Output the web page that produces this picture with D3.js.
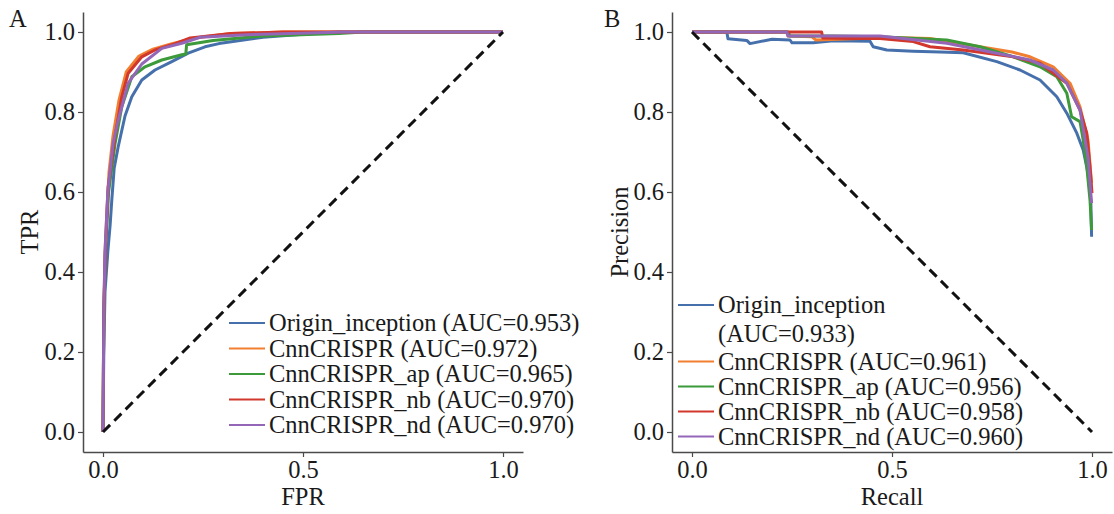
<!DOCTYPE html>
<head>
<meta charset="utf-8">
<title>ROC and PR curves</title>
<script src="https://cdn.jsdelivr.net/npm/d3@7"></script>
<style>
  body { margin: 0; background: #fff; }
  text { font-family: "Liberation Serif", "Times New Roman", serif; fill: #1a1a1a; }
</style>
</head>
<body>
<div id="chart"></div>
<script>

// model names and colours
var models = ["Origin_inception", "CnnCRISPR", "CnnCRISPR_ap", "CnnCRISPR_nb", "CnnCRISPR_nd"];
var colors = ["#4670ab", "#f27f30", "#3c9a3a", "#d1372c", "#9366b8"];

var rocAuc = [0.953, 0.972, 0.965, 0.970, 0.970];
var prAuc = [0.933, 0.961, 0.956, 0.958, 0.960];

var tickVals = [0, 0.2, 0.4, 0.6, 0.8, 1.0];
var xTickVals = [0, 0.5, 1.0];

// ROC points [FPR, TPR]
var rocOrigin = [[0,0],[0.002,0.2],[0.005,0.35],[0.012,0.45],[0.018,0.52],[0.022,0.58],[0.028,0.66],[0.038,0.713],
  [0.055,0.79],[0.072,0.838],[0.097,0.88],[0.13,0.905],[0.172,0.926],[0.213,0.947],[0.255,0.963],[0.29,0.971],
  [0.40,0.987],[0.525,0.996],[0.59,1.0],[1,1]];
var rocCnn = [[0,0],[0.002,0.3],[0.005,0.45],[0.01,0.56],[0.015,0.65],[0.025,0.74],[0.04,0.83],[0.058,0.9],
  [0.09,0.94],[0.125,0.957],[0.17,0.97],[0.23,0.985],[0.32,0.996],[0.45,1],[1,1]];
var rocAp = [[0,0],[0.002,0.3],[0.006,0.45],[0.014,0.6],[0.03,0.72],[0.047,0.813],[0.072,0.888],[0.105,0.913],
  [0.147,0.93],[0.197,0.943],[0.207,0.945],[0.209,0.968],[0.275,0.979],[0.40,0.99],[0.59,0.996],[0.65,1],[1,1]];
var rocNb = [[0,0],[0.002,0.3],[0.006,0.45],[0.013,0.613],[0.03,0.738],[0.047,0.838],[0.063,0.897],[0.097,0.938],
  [0.13,0.955],[0.172,0.968],[0.218,0.985],[0.32,0.996],[0.45,1],[1,1]];
var rocNd = [[0,0],[0.002,0.3],[0.005,0.45],[0.012,0.6],[0.025,0.72],[0.038,0.78],[0.063,0.872],[0.097,0.92],
  [0.147,0.959],[0.197,0.972],[0.243,0.987],[0.36,0.993],[0.54,0.998],[0.6,1],[1,1]];

// PR points [Recall, Precision]
var prOrigin = [[0,1],[0.087,1],[0.09,0.983],[0.137,0.979],[0.145,0.971],[0.2,0.982],[0.245,0.98],[0.25,0.973],
  [0.303,0.973],[0.353,0.978],[0.445,0.977],[0.453,0.963],[0.487,0.955],[0.553,0.952],[0.62,0.95],[0.678,0.948],
  [0.762,0.926],[0.82,0.905],[0.87,0.88],[0.912,0.838],[0.937,0.797],[0.962,0.747],[0.978,0.705],[0.99,0.647],
  [0.997,0.58],[0.999,0.488]];
var prCnn = [[0,1],[0.237,1],[0.24,0.99],[0.3,0.988],[0.31,0.98],[0.4,0.983],[0.5,0.986],[0.595,0.984],[0.72,0.963],
  [0.8,0.95],[0.845,0.938],[0.903,0.913],[0.945,0.872],[0.97,0.813],[0.99,0.73],[0.999,0.622]];
var prAp = [[0,1],[0.24,1],[0.245,0.99],[0.35,0.99],[0.47,0.988],[0.637,0.98],[0.72,0.963],[0.803,0.938],[0.87,0.913],
  [0.912,0.888],[0.937,0.847],[0.949,0.788],[0.97,0.776],[0.978,0.73],[0.987,0.663],[0.995,0.58],[0.999,0.505]];
var prNb = [[0,1],[0.324,1],[0.327,0.985],[0.4,0.984],[0.47,0.984],[0.553,0.976],[0.595,0.963],[0.678,0.955],
  [0.803,0.938],[0.87,0.922],[0.937,0.872],[0.97,0.805],[0.987,0.747],[0.995,0.663],[1.0,0.597]];
var prNd = [[0,1],[0.237,1],[0.24,0.99],[0.47,0.99],[0.637,0.972],[0.762,0.947],[0.845,0.93],[0.903,0.905],
  [0.937,0.872],[0.97,0.805],[0.99,0.687],[0.999,0.572]];

var rocData = [rocOrigin, rocCnn, rocAp, rocNb, rocNd];
var prData = [prOrigin, prCnn, prAp, prNb, prNd];

var fs = 24.5;

var svg = d3.select("#chart").append("svg")
  .attr("width", 1114)
  .attr("height", 514);

function panel(opts) {
  var x = d3.scaleLinear().domain([-0.05, 1.05]).range(opts.xRange);
  var y = d3.scaleLinear().domain([-0.05, 1.05]).range([452, 12]);
  var g = svg.append("g");

  // axes
  var ax = g.append("g")
    .attr("transform", "translate(0,452)")
    .call(d3.axisBottom(x).tickValues(xTickVals).tickFormat(d3.format(".1f")).tickSize(5).tickSizeOuter(0).tickPadding(4));
  var ay = g.append("g")
    .attr("transform", "translate(" + opts.xRange[0] + ",0)")
    .call(d3.axisLeft(y).tickValues(tickVals).tickFormat(d3.format(".1f")).tickSize(5).tickSizeOuter(0).tickPadding(3));
  [ax, ay].forEach(function(a) {
    a.select(".domain").attr("stroke", "#4a4a4a").attr("stroke-width", 1.5);
    a.selectAll(".tick line").attr("stroke", "#4a4a4a").attr("stroke-width", 1.2);
    a.selectAll(".tick text").attr("font-size", fs).attr("font-family", "Liberation Serif").attr("fill", "#1a1a1a");
  });

  // curves
  var line = d3.line().x(function(d) { return x(d[0]); }).y(function(d) { return y(d[1]); });
  g.append("g").selectAll("path")
    .data(opts.data)
    .enter()
    .append("path")
      .attr("d", line)
      .attr("fill", "none")
      .attr("stroke", function(d, i) { return colors[i]; })
      .attr("stroke-width", 3)
      .attr("stroke-linejoin", "round");

  // chance line
  g.append("path")
    .attr("d", line(opts.diag))
    .attr("fill", "none")
    .attr("stroke", "#111")
    .attr("stroke-width", 3)
    .attr("stroke-dasharray", "10,6");

  // labels
  g.append("text").attr("x", opts.letterX).attr("y", 27).attr("font-size", fs).text(opts.letter);
  g.append("text")
    .attr("x", x(0.5)).attr("y", 505)
    .attr("text-anchor", "middle").attr("font-size", fs)
    .text(opts.xLabel);
  g.append("text")
    .attr("transform", "translate(" + opts.yLabelX + "," + y(0.5) + ") rotate(-90)")
    .attr("text-anchor", "middle").attr("font-size", fs)
    .text(opts.yLabel);

  // legend
  var lg = g.append("g");
  opts.legendY.forEach(function(ly, i) {
    lg.append("line")
      .attr("x1", opts.legendX).attr("x2", opts.legendX + 36)
      .attr("y1", ly).attr("y2", ly)
      .attr("stroke", colors[i]).attr("stroke-width", 2);
    var lines = opts.legendText[i];
    lines.forEach(function(t, j) {
      lg.append("text")
        .attr("x", opts.legendX + 40)
        .attr("y", ly + 8 + j * 28.5)
        .attr("font-size", fs)
        .text(t);
    });
  });
}

panel({
  xRange: [83, 523],
  data: rocData,
  diag: [[0, 0], [1, 1]],
  letter: "A", letterX: 9,
  xLabel: "FPR", yLabel: "TPR", yLabelX: 38,
  legendX: 229,
  legendY: [323, 348.5, 374, 399.5, 425],
  legendText: models.map(function(m, i) { return [m + " (AUC=" + rocAuc[i].toFixed(3) + ")"]; })
});

panel({
  xRange: [672, 1112],
  data: prData,
  diag: [[0, 1], [1, 0]],
  letter: "B", letterX: 604,
  xLabel: "Recall", yLabel: "Precision", yLabelX: 628,
  legendX: 678,
  legendY: [305, 361.5, 386.5, 411.5, 436.5],
  legendText: models.map(function(m, i) {
    var t = "(AUC=" + prAuc[i].toFixed(3) + ")";
    return i === 0 ? [m, t] : [m + " " + t];
  })
});

</script>
</body>
</html>
